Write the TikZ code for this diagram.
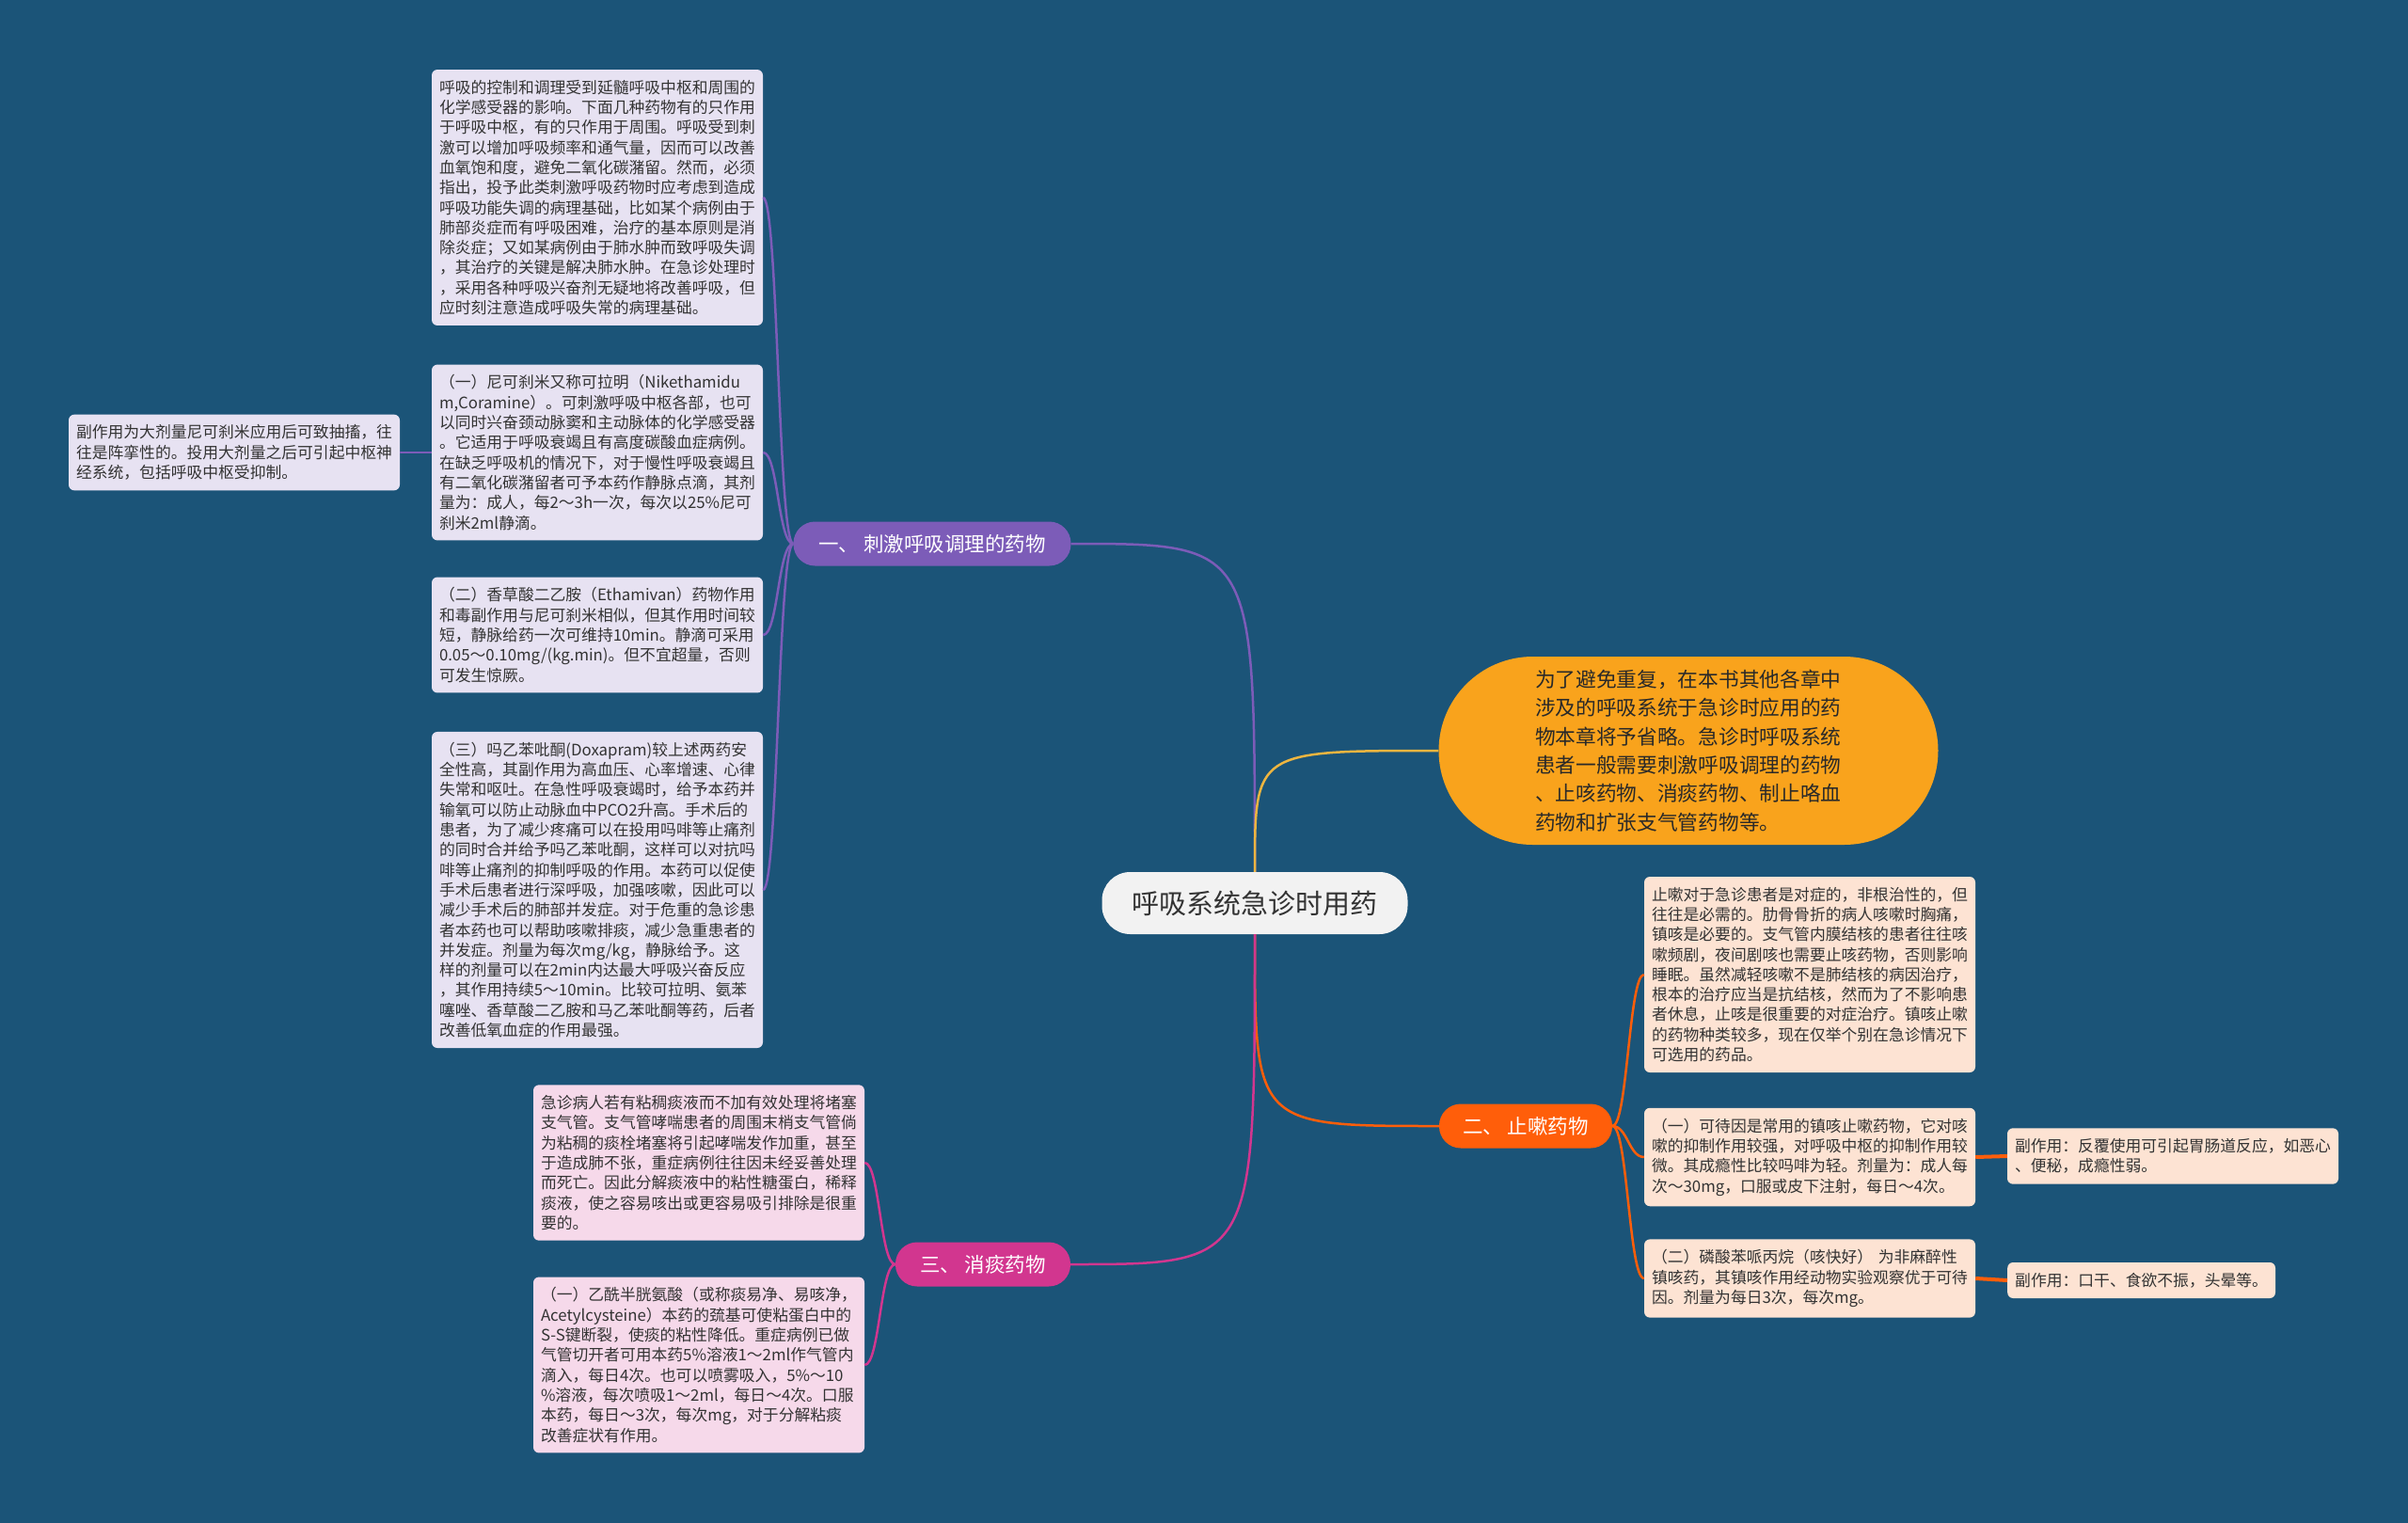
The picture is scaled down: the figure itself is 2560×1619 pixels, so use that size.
\documentclass[tikz,border=0pt]{standalone}
\usepackage{fontspec}
\setmainfont{Noto Sans CJK SC}
\definecolor{bgblue}{HTML}{1B5478}
\definecolor{purpleaccent}{HTML}{7C5CB8}
\definecolor{purplelight}{HTML}{E7E2F2}
\definecolor{orangeaccent}{HTML}{FF5E0A}
\definecolor{peachlight}{HTML}{FDE3D3}
\definecolor{pinkaccent}{HTML}{D2368F}
\definecolor{pinklight}{HTML}{F6D9EA}
\definecolor{goldaccent}{HTML}{F9A31C}
\definecolor{goldline}{HTML}{EDB540}
\definecolor{rootbg}{HTML}{F2F2F2}
\definecolor{textdark}{HTML}{333333}
\usepackage{tikz}
\usetikzlibrary{positioning,calc}

\begin{document}
\begin{tikzpicture}[x=1pt, y=-1pt,
    root/.style={fill=rootbg, rounded corners=30pt, minimum width=325pt, minimum height=66pt,
                 text=textdark, font=\fontsize{29pt}{34pt}\selectfont},
    branch/.style={rounded corners=23pt, minimum height=47pt, text=white,
                   font=\fontsize{21.5pt}{26pt}\selectfont},
    summary/.style={fill=goldaccent, rounded corners=100pt, minimum width=531pt, minimum height=200pt,
                    text width=326pt, align=left, text=textdark!80!black,
                    font=\fontsize{21.7pt}{30.4pt}\selectfont},
    sideleaf/.style={rounded corners=6pt, inner xsep=8pt, inner ysep=11pt,
                 align=left, text=textdark, font=\fontsize{16.8pt}{21.3pt}\selectfont},
    leaf/.style={sideleaf, text width=336pt},
    link/.style={line width=2.5pt}]

  \fill[bgblue] (0,0) rectangle (2560,1619);

  \node[root] (root) at (1334,960) {呼吸系统急诊时用药};

  \node[branch, fill=purpleaccent, minimum width=295pt] (stim) at (991,578) {一、 刺激呼吸调理的药物};
  \node[branch, fill=orangeaccent, minimum width=184pt] (cough) at (1622,1197) {二、 止嗽药物};
  \node[branch, fill=pinkaccent, minimum width=186pt] (phlegm) at (1045,1344) {三、 消痰药物};

  \node[summary] (intro) at (1795,798) {为了避免重复，在本书其他各章中\\涉及的呼吸系统于急诊时应用的药\\物本章将予省略。急诊时呼吸系统\\患者一般需要刺激呼吸调理的药物\\、止咳药物、消痰药物、制止咯血\\药物和扩张支气管药物等。};

  \node[leaf, fill=purplelight] (ctrl) at (635,210) {呼吸的控制和调理受到延髓呼吸中枢和周围的\\化学感受器的影响。下面几种药物有的只作用\\于呼吸中枢，有的只作用于周围。呼吸受到刺\\激可以增加呼吸频率和通气量，因而可以改善\\血氧饱和度，避免二氧化碳潴留。然而，必须\\指出，投予此类刺激呼吸药物时应考虑到造成\\呼吸功能失调的病理基础，比如某个病例由于\\肺部炎症而有呼吸困难，治疗的基本原则是消\\除炎症；又如某病例由于肺水肿而致呼吸失调\\，其治疗的关键是解决肺水肿。在急诊处理时\\，采用各种呼吸兴奋剂无疑地将改善呼吸，但\\应时刻注意造成呼吸失常的病理基础。};
  \node[leaf, fill=purplelight] (nike) at (635,481) {（一）尼可刹米又称可拉明（Nikethamidu\\m,Coramine）。可刺激呼吸中枢各部，也可\\以同时兴奋颈动脉窦和主动脉体的化学感受器\\。它适用于呼吸衰竭且有高度碳酸血症病例。\\在缺乏呼吸机的情况下，对于慢性呼吸衰竭且\\有二氧化碳潴留者可予本药作静脉点滴，其剂\\量为：成人，每2～3h一次，每次以25\%尼可\\刹米2ml静滴。};
  \node[leaf, fill=purplelight] (nikeside) at (249,481) {副作用为大剂量尼可刹米应用后可致抽搐，往\\往是阵挛性的。投用大剂量之后可引起中枢神\\经系统，包括呼吸中枢受抑制。};
  \node[leaf, fill=purplelight] (etham) at (635,675) {（二）香草酸二乙胺（Ethamivan）药物作用\\和毒副作用与尼可刹米相似，但其作用时间较\\短，静脉给药一次可维持10min。静滴可采用\\0.05～0.10mg/(kg.min)。但不宜超量，否则\\可发生惊厥。};
  \node[leaf, fill=purplelight] (doxa) at (635,946) {（三）吗乙苯吡酮(Doxapram)较上述两药安\\全性高，其副作用为高血压、心率增速、心律\\失常和呕吐。在急性呼吸衰竭时，给予本药并\\输氧可以防止动脉血中PCO2升高。手术后的\\患者，为了减少疼痛可以在投用吗啡等止痛剂\\的同时合并给予吗乙苯吡酮，这样可以对抗吗\\啡等止痛剂的抑制呼吸的作用。本药可以促使\\手术后患者进行深呼吸，加强咳嗽，因此可以\\减少手术后的肺部并发症。对于危重的急诊患\\者本药也可以帮助咳嗽排痰，减少急重患者的\\并发症。剂量为每次mg/kg，静脉给予。这\\样的剂量可以在2min内达最大呼吸兴奋反应\\，其作用持续5～10min。比较可拉明、氨苯\\噻唑、香草酸二乙胺和马乙苯吡酮等药，后者\\改善低氧血症的作用最强。};

  \node[leaf, fill=pinklight] (sputum) at (743,1236) {急诊病人若有粘稠痰液而不加有效处理将堵塞\\支气管。支气管哮喘患者的周围末梢支气管倘\\为粘稠的痰栓堵塞将引起哮喘发作加重，甚至\\于造成肺不张，重症病例往往因未经妥善处理\\而死亡。因此分解痰液中的粘性糖蛋白，稀释\\痰液，使之容易咳出或更容易吸引排除是很重\\要的。};
  \node[leaf, fill=pinklight] (acetyl) at (743,1451) {（一）乙酰半胱氨酸（或称痰易净、易咳净，\\Acetylcysteine）本药的巯基可使粘蛋白中的\\S-S键断裂，使痰的粘性降低。重症病例已做\\气管切开者可用本药5\%溶液1～2ml作气管内\\滴入，每日4次。也可以喷雾吸入，5\%～10\\\%溶液，每次喷吸1～2ml，每日～4次。口服\\本药，每日～3次，每次mg，对于分解粘痰\\改善症状有作用。};

  \node[leaf, fill=peachlight] (antitus) at (1924,1036) {止嗽对于急诊患者是对症的，非根治性的，但\\往往是必需的。肋骨骨折的病人咳嗽时胸痛，\\镇咳是必要的。支气管内膜结核的患者往往咳\\嗽频剧，夜间剧咳也需要止咳药物，否则影响\\睡眠。虽然减轻咳嗽不是肺结核的病因治疗，\\根本的治疗应当是抗结核，然而为了不影响患\\者休息，止咳是很重要的对症治疗。镇咳止嗽\\的药物种类较多，现在仅举个别在急诊情况下\\可选用的药品。};
  \node[leaf, fill=peachlight] (codeine) at (1924,1230) {（一）可待因是常用的镇咳止嗽药物，它对咳\\嗽的抑制作用较强，对呼吸中枢的抑制作用较\\微。其成瘾性比较吗啡为轻。剂量为：成人每\\次～30mg，口服或皮下注射，每日～4次。};
  \node[leaf, fill=peachlight] (codeineside) at (2310,1229) {副作用：反覆使用可引起胃肠道反应，如恶心\\、便秘，成瘾性弱。};
  \node[leaf, fill=peachlight] (benpro) at (1924,1359) {（二）磷酸苯哌丙烷（咳快好） 为非麻醉性\\镇咳药，其镇咳作用经动物实验观察优于可待\\因。剂量为每日3次，每次mg。};
  \node[sideleaf, fill=peachlight, anchor=west] (benproside) at (2134,1361) {副作用：口干、食欲不振，头晕等。};

  \draw[link, purpleaccent] (root.north) .. controls (root.north |- stim.east) .. (stim.east);
  \draw[link, goldline] (root.north) .. controls (root.north |- intro.west) .. (intro.west);
  \draw[link, orangeaccent] (root.south) .. controls (root.south |- cough.west) .. (cough.west);
  \draw[link, pinkaccent] (root.south) .. controls (root.south |- phlegm.east) .. (phlegm.east);

  \foreach \leaf in {ctrl,nike,etham,doxa}
    \draw[link, purpleaccent] (stim.west) .. controls ([xshift=-16pt]stim.west) and ([xshift=16pt]\leaf.east) .. (\leaf.east);
  \foreach \leaf in {sputum,acetyl}
    \draw[link, pinkaccent] (phlegm.west) .. controls ([xshift=-16pt]phlegm.west) and ([xshift=16pt]\leaf.east) .. (\leaf.east);
  \foreach \leaf in {antitus,codeine,benpro}
    \draw[link, orangeaccent] (cough.east) .. controls ([xshift=16pt]cough.east) and ([xshift=-16pt]\leaf.west) .. (\leaf.west);

  \draw[link, purpleaccent] (nike.west) -- (nikeside.east);
  \draw[line width=4pt, orangeaccent] (codeine.east) -- (codeineside.west);
  \draw[line width=4pt, orangeaccent] (benpro.east) -- (benproside.west);
\end{tikzpicture}
\end{document}
